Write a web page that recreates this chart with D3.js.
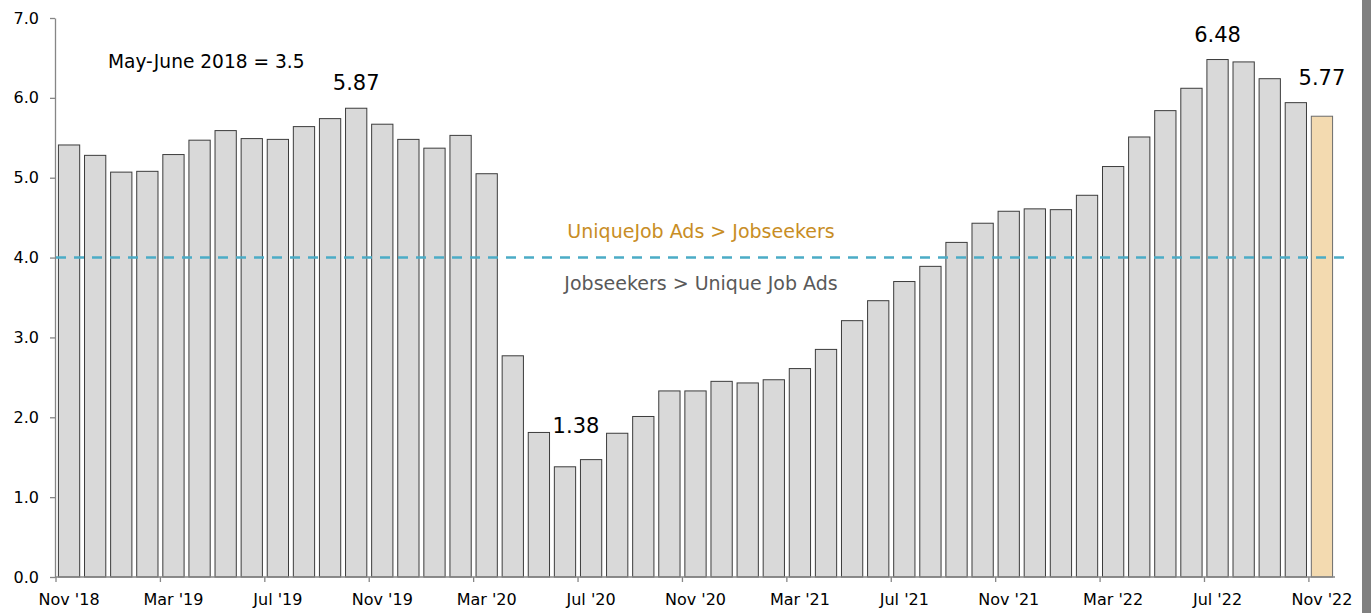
<!DOCTYPE html>
<html>
<head>
<meta charset="utf-8">
<script src="https://cdn.jsdelivr.net/npm/d3@7"></script>
<style>
  html, body { margin: 0; padding: 0; background: #fff; }
  svg { display: block; }
  text { font-family: "DejaVu Sans", sans-serif; }
</style>
</head>
<body>
<svg id="chart" width="1371" height="613"></svg>
<script>
// Monthly ratio of jobseekers to unique job ads
const months = [
  "Nov '18","Dec '18","Jan '19","Feb '19","Mar '19","Apr '19","May '19","Jun '19","Jul '19","Aug '19","Sep '19","Oct '19",
  "Nov '19","Dec '19","Jan '20","Feb '20","Mar '20","Apr '20","May '20","Jun '20","Jul '20","Aug '20","Sep '20","Oct '20",
  "Nov '20","Dec '20","Jan '21","Feb '21","Mar '21","Apr '21","May '21","Jun '21","Jul '21","Aug '21","Sep '21","Oct '21",
  "Nov '21","Dec '21","Jan '22","Feb '22","Mar '22","Apr '22","May '22","Jun '22","Jul '22","Aug '22","Sep '22","Oct '22",
  "Nov '22"
];
const ratios = [
  5.41, 5.28, 5.07, 5.08, 5.29, 5.47, 5.59, 5.49, 5.48, 5.64, 5.74, 5.87,
  5.67, 5.48, 5.37, 5.53, 5.05, 2.77, 1.81, 1.38, 1.47, 1.80, 2.01, 2.33,
  2.33, 2.45, 2.43, 2.47, 2.61, 2.85, 3.21, 3.46, 3.70, 3.89, 4.19, 4.43,
  4.58, 4.61, 4.60, 4.78, 5.14, 5.51, 5.84, 6.12, 6.48, 6.45, 6.24, 5.94,
  5.77
];
const tickMonths = ["Nov '18","Mar '19","Jul '19","Nov '19","Mar '20","Jul '20","Nov '20","Mar '21","Jul '21","Nov '21","Mar '22","Jul '22","Nov '22"];
const yTicks = [0, 1, 2, 3, 4, 5, 6, 7];
const labelledMonths = ["Oct '19", "Jun '20", "Jul '22", "Nov '22"];
const threshold = 4.0;
const baseNote = "May-June 2018 = 3.5";
const aboveNote = "UniqueJob Ads > Jobseekers";
const belowNote = "Jobseekers > Unique Job Ads";

const svg = d3.select("#chart");
const W = 1371, H = 613;
const plotLeft = 56, plotRight = 1335, plotTop = 18, plotBottom = 577;

svg.append("rect").attr("width", W).attr("height", H).attr("fill", "#fff");

const data = months.map((m, i) => ({ month: m, value: ratios[i] }));
const lastMonth = months[months.length - 1];

const x = d3.scaleBand()
  .domain(months)
  .range([plotLeft, plotRight])
  .paddingInner(0.185)
  .paddingOuter(0.0925);
const y = d3.scaleLinear().domain([0, 7]).range([plotBottom, plotTop]);
const edge = m => x(m) - x.step() * x.paddingOuter();

// Bars
svg.append("g").selectAll("rect")
  .data(data)
  .join("rect")
  .attr("x", d => x(d.month))
  .attr("y", d => y(d.value))
  .attr("width", x.bandwidth())
  .attr("height", d => y(0) - y(d.value))
  .attr("fill", d => d.month === lastMonth ? "#f3dab0" : "#d9d9d9")
  .attr("stroke", d => d.month === lastMonth ? "#6b6b6b" : "#3c3c3c")
  .attr("stroke-width", 1);

// Y axis
const yAxis = svg.append("g")
  .attr("transform", `translate(${plotLeft - 1},0)`)
  .call(d3.axisLeft(y).tickValues(yTicks).tickFormat(d3.format(".1f")).tickSize(5).tickSizeOuter(0));
yAxis.select(".domain").attr("stroke", "#868686").attr("stroke-width", 1.3);
yAxis.selectAll(".tick line").attr("stroke", "#868686").attr("stroke-width", 1.3);
yAxis.selectAll(".tick text")
  .attr("x", -16)
  .attr("fill", "#000")
  .style("font-size", "16px")
  .style("font-family", "DejaVu Sans, sans-serif");

// X axis: ticks between categories, labels under the bars
const xAxis = svg.append("g").attr("transform", `translate(0,${plotBottom})`);
xAxis.append("line")
  .attr("x1", plotLeft - 1).attr("x2", plotRight)
  .attr("stroke", "#868686").attr("stroke-width", 1.3);
xAxis.selectAll("line.tick")
  .data(tickMonths)
  .join("line")
  .attr("class", "tick")
  .attr("x1", d => edge(d)).attr("x2", d => edge(d))
  .attr("y1", 0).attr("y2", 5)
  .attr("stroke", "#868686").attr("stroke-width", 1.3);
xAxis.selectAll("text")
  .data(tickMonths)
  .join("text")
  .attr("x", d => x(d) + x.bandwidth() / 2)
  .attr("y", 28)
  .attr("text-anchor", "middle")
  .attr("fill", "#000")
  .style("font-size", "16px")
  .text(d => d);

// Threshold line
svg.append("line")
  .attr("x1", plotLeft).attr("x2", 1350)
  .attr("y1", y(threshold)).attr("y2", y(threshold))
  .attr("stroke", "#4bacc6")
  .attr("stroke-width", 2.6)
  .attr("stroke-dasharray", "10,8");

const midX = 701;
svg.append("text")
  .attr("x", midX).attr("y", 238)
  .attr("text-anchor", "middle")
  .attr("fill", "#c88d24")
  .style("font-size", "19px")
  .text(aboveNote);
svg.append("text")
  .attr("x", midX).attr("y", 290)
  .attr("text-anchor", "middle")
  .attr("fill", "#595959")
  .style("font-size", "19px")
  .text(belowNote);

svg.append("text")
  .attr("x", 108).attr("y", 68)
  .attr("fill", "#000")
  .style("font-size", "18.6px")
  .text(baseNote);

// Value labels on highlighted months
const labelShift = { "Oct '19": [0, -18], "Jun '20": [11, -34], "Jul '22": [0, -18], "Nov '22": [0, -31] };
svg.append("g").selectAll("text")
  .data(data.filter(d => labelledMonths.includes(d.month)))
  .join("text")
  .attr("x", d => x(d.month) + x.bandwidth() / 2 + labelShift[d.month][0])
  .attr("y", d => y(d.value) + labelShift[d.month][1])
  .attr("text-anchor", "middle")
  .attr("fill", "#000")
  .style("font-size", "21px")
  .text(d => d3.format(".2f")(d.value));

// Right frame strip
svg.append("rect")
  .attr("x", 1362).attr("y", 0)
  .attr("width", 9).attr("height", H)
  .attr("fill", "#808080");
</script>
</body>
</html>
